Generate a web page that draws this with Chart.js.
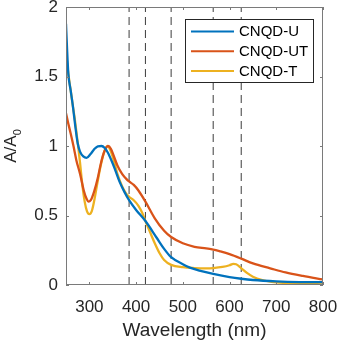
<!DOCTYPE html>
<html>
<head>
<meta charset="utf-8">
<script src="https://cdn.jsdelivr.net/npm/chart.js@4.4.1/dist/chart.umd.min.js"></script>
<style>
  html, body { margin: 0; padding: 0; background: #fff; }
  #wrap { width: 340px; height: 344px; }
</style>
</head>
<body>
<div id="wrap"><canvas id="chart" width="340" height="344"></canvas></div>
<script>
// values
const seriesNames = ['CNQD-U', 'CNQD-UT', 'CNQD-T'];
const seriesColors = ['#0072BD', '#D95319', '#EDB120'];

const uX = [250, 252, 255, 260, 265, 270, 275, 280, 287, 294, 302, 310, 318, 326, 333, 340, 348, 355, 365, 375, 385, 400, 420, 444, 460, 475, 500, 515, 540, 565, 600, 625, 650, 700, 750, 800];
const uY = [1.88, 1.72, 1.52, 1.4, 1.28, 1.14, 1.02, 0.96, 0.925, 0.915, 0.94, 0.975, 0.998, 1.0, 0.985, 0.95, 0.89, 0.83, 0.74, 0.67, 0.61, 0.54, 0.46, 0.34, 0.26, 0.2, 0.15, 0.125, 0.1, 0.08, 0.057, 0.045, 0.036, 0.026, 0.021, 0.02];

const utX = [250, 255, 260, 266, 272, 280, 288, 294, 298, 303, 310, 318, 325, 332, 340, 346, 352, 360, 370, 380, 385, 395, 405, 420, 440, 460, 475, 500, 525, 550, 565, 580, 600, 625, 650, 687, 720, 757, 800];
const utY = [1.235, 1.16, 1.09, 1.0, 0.9, 0.8, 0.68, 0.62, 0.6, 0.61, 0.67, 0.77, 0.88, 0.96, 1.0, 0.98, 0.93, 0.86, 0.8, 0.76, 0.745, 0.72, 0.68, 0.6, 0.48, 0.39, 0.345, 0.3, 0.275, 0.263, 0.255, 0.242, 0.222, 0.19, 0.155, 0.12, 0.09, 0.065, 0.04];

const tX = [250, 255, 260, 265, 269, 273, 276, 280, 285, 290, 295, 300, 305, 310, 318, 325, 332, 339, 345, 352, 360, 370, 378, 385, 395, 405, 413, 420, 430, 440, 450, 460, 475, 500, 525, 550, 565, 585, 600, 608, 614, 620, 627, 638, 650, 670, 690, 720, 760, 800];
const tY = [1.68, 1.52, 1.4, 1.28, 1.19, 1.08, 1.0, 0.88, 0.72, 0.6, 0.53, 0.51, 0.53, 0.6, 0.75, 0.87, 0.96, 1.0, 0.97, 0.9, 0.8, 0.71, 0.66, 0.635, 0.61, 0.57, 0.52, 0.46, 0.38, 0.3, 0.23, 0.18, 0.145, 0.128, 0.122, 0.12, 0.122, 0.13, 0.142, 0.152, 0.149, 0.136, 0.115, 0.085, 0.06, 0.036, 0.023, 0.015, 0.009, 0.005];

const markerLines = [385, 420, 475, 565, 625];
const xTicks = [300, 400, 500, 600, 700, 800];
const yTicks = [0, 0.5, 1, 1.5, 2];

function pts(xs, ys) {
    return xs.map((x, i) => ({ x: x, y: ys[i] }));
}

const datasets = [];
[[uX, uY], [utX, utY], [tX, tY]].forEach((s, i) => {
    datasets.push({
        label: seriesNames[i],
        data: pts(s[0], s[1]),
        borderColor: seriesColors[i],
        borderWidth: 2.3,
        showLine: true,
        pointRadius: 0,
        cubicInterpolationMode: 'monotone',
        order: 1
    });
});
markerLines.forEach(w => {
    datasets.push({
        label: '',
        data: [{ x: w, y: 0 }, { x: w, y: 2 }],
        borderColor: '#3c3c3c',
        borderWidth: 1,
        borderDash: [8, 5],
        showLine: true,
        pointRadius: 0,
        order: 2
    });
});

const axisColor = '#7a7a7a';
const font = '"Liberation Sans", Arial, sans-serif';

// box, inward ticks, y title and legend drawn on top
const frame = {
    id: 'frame',
    afterDraw(chart) {
        const c = chart.ctx;
        const a = chart.chartArea;
        const xs = chart.scales.x, ys = chart.scales.y;
        c.save();
        c.strokeStyle = axisColor;
        c.lineWidth = 1;
        c.strokeRect(a.left + 0.5, a.top + 0.5, a.right - a.left - 1, a.bottom - a.top - 1);
        c.beginPath();
        xTicks.forEach(v => {
            const p = Math.round(xs.getPixelForValue(v)) + 0.5;
            c.moveTo(p, a.bottom); c.lineTo(p, a.bottom - 3);
            c.moveTo(p, a.top); c.lineTo(p, a.top + 3);
        });
        yTicks.forEach(v => {
            const p = Math.round(ys.getPixelForValue(v)) + 0.5;
            c.moveTo(a.left, p); c.lineTo(a.left + 3, p);
            c.moveTo(a.right, p); c.lineTo(a.right - 3, p);
        });
        c.stroke();

        // y title A/A0
        c.fillStyle = '#262626';
        c.translate(16, (a.top + a.bottom) / 2);
        c.rotate(-Math.PI / 2);
        c.font = '17px ' + font;
        c.textBaseline = 'alphabetic';
        const main = 'A/A';
        const w1 = c.measureText(main).width;
        c.font = '11px ' + font;
        const w2 = c.measureText('0').width;
        const x0 = -(w1 + w2) / 2;
        c.font = '17px ' + font;
        c.fillText(main, x0, 0);
        c.font = '11px ' + font;
        c.fillText('0', x0 + w1, 5);
        c.restore();

        // legend
        c.save();
        const bx = 185, by = 19, bw = 128, bh = 63;
        c.fillStyle = '#fff';
        c.fillRect(bx, by, bw, bh);
        c.strokeStyle = '#262626';
        c.lineWidth = 1;
        c.strokeRect(bx + 0.5, by + 0.5, bw, bh);
        c.font = '15px ' + font;
        c.textBaseline = 'middle';
        seriesNames.forEach((n, i) => {
            const yy = by + 12.5 + i * 19.7;
            c.strokeStyle = seriesColors[i];
            c.lineWidth = 2;
            c.beginPath();
            c.moveTo(191, yy); c.lineTo(234, yy);
            c.stroke();
            c.fillStyle = '#000';
            c.fillText(n, 239, yy + 0.5);
        });
        c.restore();
    }
};

new Chart(document.getElementById('chart'), {
    type: 'scatter',
    data: { datasets: datasets },
    options: {
        responsive: false,
        animation: false,
        events: [],
        layout: { padding: { left: 0, top: 7, right: 17, bottom: 0 } },
        plugins: {
            legend: { display: false },
            tooltip: { enabled: false }
        },
        scales: {
            x: {
                type: 'linear',
                min: 250,
                max: 800,
                afterBuildTicks: s => { s.ticks = xTicks.map(v => ({ value: v })); },
                afterFit: s => { s.height = 59; s.paddingLeft = 0; s.paddingRight = 0; },
                grid: { display: false, drawTicks: false },
                border: { display: false },
                ticks: {
                    padding: 12,
                    color: '#262626',
                    font: { family: font, size: 17 },
                    maxRotation: 0,
                    callback: v => String(v)
                },
                title: {
                    display: true,
                    text: 'Wavelength (nm)',
                    color: '#262626',
                    font: { family: font, size: 19 },
                    padding: { top: 0, bottom: 2 }
                }
            },
            y: {
                type: 'linear',
                min: 0,
                max: 2,
                afterBuildTicks: s => { s.ticks = yTicks.map(v => ({ value: v })); },
                afterFit: s => { s.width = 66; s.paddingTop = 0; s.paddingBottom = 0; },
                grid: { display: false, drawTicks: false },
                border: { display: false },
                ticks: {
                    padding: 8,
                    color: '#262626',
                    font: { family: font, size: 17 },
                    callback: v => String(v)
                }
            }
        }
    },
    plugins: [frame]
});
</script>
</body>
</html>
